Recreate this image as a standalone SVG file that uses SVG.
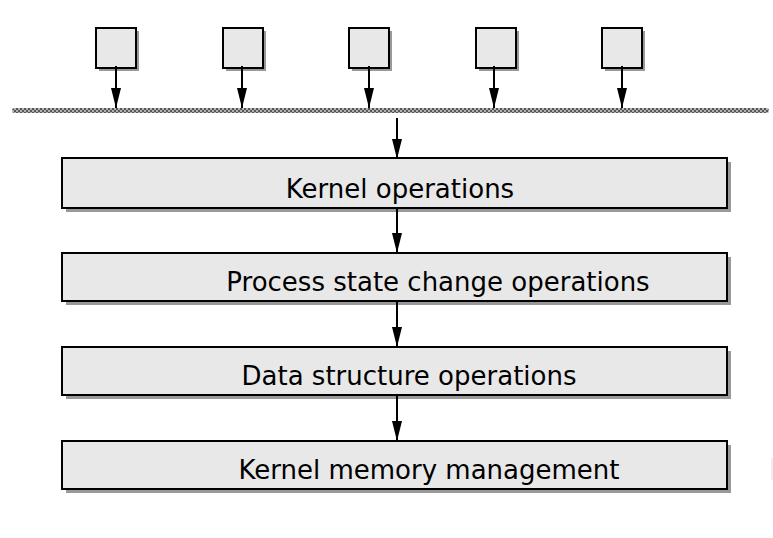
<svg xmlns="http://www.w3.org/2000/svg" width="773" height="538" viewBox="0 0 773 538">
<style>
.sh{fill:#999999}
.bx{fill:#e8e8e8;stroke:#000;stroke-width:2}
.lbl{font-family:"DejaVu Sans",Verdana,sans-serif;font-size:26px;fill:#000;text-anchor:middle}
.ar{stroke:#000;stroke-width:2;fill:none;marker-end:url(#ah)}
</style>
<defs>
<marker id="ah" markerWidth="20" markerHeight="10" refX="20" refY="5" orient="auto" markerUnits="userSpaceOnUse" viewBox="0 0 20 10">
<path d="M0,0 L20,5 L0,10 Z" fill="#000"/>
</marker>
<pattern id="chk" width="4" height="4" patternUnits="userSpaceOnUse">
<rect width="4" height="4" fill="#b4b4b4"/>
<rect width="2" height="2" fill="#555"/>
<rect x="2" y="2" width="2" height="2" fill="#555"/>
</pattern>
</defs>
<rect id="bus" x="12" y="108" width="757" height="5" rx="2.5" fill="url(#chk)"/>
<g id="p1"><rect class="sh" x="99" y="31" width="40" height="40"/><rect class="bx" x="96" y="28" width="40" height="40"/></g>
<g id="p2"><rect class="sh" x="226" y="31" width="40" height="40"/><rect class="bx" x="223" y="28" width="40" height="40"/></g>
<g id="p3"><rect class="sh" x="352" y="31" width="40" height="40"/><rect class="bx" x="349" y="28" width="40" height="40"/></g>
<g id="p4"><rect class="sh" x="479" y="31" width="40" height="40"/><rect class="bx" x="476" y="28" width="40" height="40"/></g>
<g id="p5"><rect class="sh" x="605" y="31" width="40" height="40"/><rect class="bx" x="602" y="28" width="40" height="40"/></g>
<g id="n1"><rect class="sh" x="66" y="162" width="665" height="50"/><rect class="bx" x="62" y="158" width="665" height="50"/><text class="lbl" x="400" y="198">Kernel operations</text></g>
<g id="n2"><rect class="sh" x="66" y="257" width="665" height="48"/><rect class="bx" x="62" y="253" width="665" height="48"/><text class="lbl" x="438" y="291">Process state change operations</text></g>
<g id="n3"><rect class="sh" x="66" y="351" width="665" height="48"/><rect class="bx" x="62" y="347" width="665" height="48"/><text class="lbl" x="409" y="385">Data structure operations</text></g>
<g id="n4"><rect class="sh" x="66" y="445" width="665" height="48"/><rect class="bx" x="62" y="441" width="665" height="48"/><text class="lbl" x="429" y="479">Kernel memory management</text></g>
<g id="connectors">
<line class="ar" x1="116" y1="66" x2="116" y2="108"/>
<line class="ar" x1="242" y1="66" x2="242" y2="108"/>
<line class="ar" x1="369" y1="66" x2="369" y2="108"/>
<line class="ar" x1="494" y1="66" x2="494" y2="108"/>
<line class="ar" x1="622" y1="66" x2="622" y2="108"/>
<line class="ar" x1="397" y1="118" x2="397" y2="159"/>
<line class="ar" x1="397" y1="208" x2="397" y2="253"/>
<line class="ar" x1="397" y1="301" x2="397" y2="347"/>
<line class="ar" x1="397" y1="395" x2="397" y2="441"/>
</g>
<line x1="772" y1="458" x2="772" y2="480" stroke="#dddddd" stroke-width="1"/>
</svg>
